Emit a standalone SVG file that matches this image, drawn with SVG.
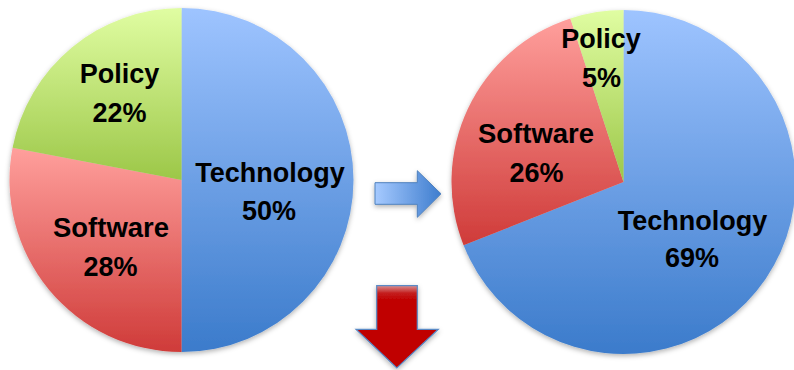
<svg xmlns="http://www.w3.org/2000/svg" width="794" height="370" viewBox="0 0 794 370">
  <defs>
    <linearGradient id="gBlue" x1="0" y1="0" x2="0" y2="1">
      <stop offset="0" stop-color="#9EC4FF"/>
      <stop offset="1" stop-color="#3B7BCB"/>
    </linearGradient>
    <linearGradient id="gRed" x1="0" y1="0" x2="0" y2="1">
      <stop offset="0" stop-color="#FF9F9C"/>
      <stop offset="1" stop-color="#CF3B39"/>
    </linearGradient>
    <linearGradient id="gGreen" x1="0" y1="0" x2="0" y2="1">
      <stop offset="0" stop-color="#E0FDA2"/>
      <stop offset="1" stop-color="#9CC748"/>
    </linearGradient>
    <linearGradient id="gArrowBlue" x1="0" y1="0" x2="1" y2="0">
      <stop offset="0" stop-color="#A6CAFF"/>
      <stop offset="1" stop-color="#3E7DCE"/>
    </linearGradient>
    <linearGradient id="gArrowRed" gradientUnits="userSpaceOnUse" x1="0" y1="286" x2="0" y2="300">
      <stop offset="0" stop-color="#D98A8A"/>
      <stop offset="0.5" stop-color="#C42020"/>
      <stop offset="1" stop-color="#C00000"/>
    </linearGradient>
    <filter id="shadow" x="-10%" y="-10%" width="120%" height="125%">
      <feDropShadow dx="0" dy="2" stdDeviation="2.5" flood-color="#000" flood-opacity="0.3"/>
    </filter>
  </defs>
  <style>
    .lbl { font-family: "Liberation Sans", Arial, sans-serif; font-weight: bold; font-size: 27px; fill: #000; text-anchor: middle; }
    .blue { fill: url(#gBlue); }
    .red { fill: url(#gRed); }
    .green { fill: url(#gGreen); }
  </style>

  <g id="pie-before" filter="url(#shadow)">
    <path class="blue" d="M181.5,180 L181.5,8 A172,172 0 0 1 181.5,352 Z"/>
    <path class="red" d="M181.5,180 L181.5,352 A172,172 0 0 1 12.55,147.77 Z"/>
    <path class="green" d="M181.5,180 L12.55,147.77 A172,172 0 0 1 181.5,8 Z"/>
  </g>
  <g id="labels-before">
    <text class="lbl" x="119.5" y="83">Policy</text>
    <text class="lbl" x="119.5" y="122">22%</text>
    <text class="lbl" x="270" y="182">Technology</text>
    <text class="lbl" x="269" y="220">50%</text>
    <text class="lbl" x="111" y="237" textLength="116" lengthAdjust="spacingAndGlyphs">Software</text>
    <text class="lbl" x="110.5" y="276">28%</text>
  </g>

  <g id="pie-after" filter="url(#shadow)">
    <path class="blue" d="M623.5,182 L623.5,10 A172,172 0 1 1 463.58,245.32 Z"/>
    <path class="red" d="M623.5,182 L463.58,245.32 A172,172 0 0 1 570.35,18.42 Z"/>
    <path class="green" d="M623.5,182 L570.35,18.42 A172,172 0 0 1 623.5,10 Z"/>
  </g>
  <g id="labels-after">
    <text class="lbl" x="601" y="48">Policy</text>
    <text class="lbl" x="601.5" y="87">5%</text>
    <text class="lbl" x="536" y="143" textLength="116" lengthAdjust="spacingAndGlyphs">Software</text>
    <text class="lbl" x="536.5" y="182">26%</text>
    <text class="lbl" x="692.5" y="230">Technology</text>
    <text class="lbl" x="692" y="267">69%</text>
  </g>

  <g id="connectors">
    <path id="arrow-right" filter="url(#shadow)" fill="url(#gArrowBlue)" stroke="#4F81BD" stroke-width="1" d="M375,182.7 L417.3,182.7 L417.3,170.7 L441,193.8 L417.3,217.3 L417.3,204.3 L375,204.3 Z"/>
    <path id="arrow-down" filter="url(#shadow)" fill="url(#gArrowRed)" stroke="#5A8AC6" stroke-width="1.2" d="M376.7,285.7 L417.3,285.7 L417.3,329.3 L438.3,329.3 L396.8,368 L356,329.3 L376.7,329.3 Z"/>
  </g>
</svg>
